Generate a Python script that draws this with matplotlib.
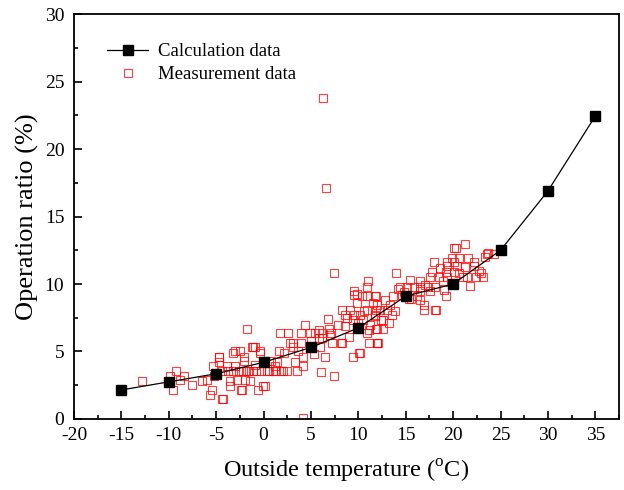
import numpy as np
import matplotlib
matplotlib.use("Agg")
import matplotlib.pyplot as plt
from matplotlib.ticker import MultipleLocator

plt.rcParams['font.family'] = ['Liberation Serif', 'DejaVu Serif']
plt.rcParams['mathtext.fontset'] = 'custom'
plt.rcParams['mathtext.rm'] = 'Liberation Serif'
plt.rcParams['axes.unicode_minus'] = False

# calculation data
calc_t = [-15, -10, -5, 0, 5, 10, 15, 20, 25, 30, 35]
calc_r = [2.15, 2.75, 3.35, 4.2, 5.3, 6.75, 9.1, 10.0, 12.5, 16.9, 22.45]

meas_t = [
    -12.85, -9.6, -9.9, -9.2, -8.35, -8.8,
    -6.5, -5.4, -5.7, -4.4, -5.2, -4.7, -4.7, -5.3, -3.5, -3.5, -2.4, -1.4, -0.04,
    -3.9, -3.0, -3.2, -2.05, -1.8, -1.1, -2.15, -1.1, -0.35, 0.0, 0.35,
    1.75, 2.6, 1.0, 2.45, 3.1, -4.65, -3.0, -2.45, -2.1, -1.2, -0.9, -0.35,
    1.6, 1.4, 4.4, 4.0, 2.8, 3.15, 3.9, 4.2, 3.3, 4.2, 3.5,
    -4.4, -3.8, -3.2, -2.6, -1.9, -1.5, -0.8, -0.3, 0.6, 1.3, 1.8, 2.0,
    -2.8, -1.95, -2.3, -0.6, 0.1, -4.3, 4.2,
    7.4, 11.0, 10.9, 9.5, 9.5, 9.9, 10.9, 11.9, 8.3, 9.15, 8.6, 9.5, 10.2, 10.9,
    11.9, 11.8, 9.4, 10.5, 11.25, 11.1, 11.9, 10.9, 11.1, 12.0, 10.2, 9.4,
    6.85, 6.95, 4.85, 5.45, 6.15, 7.1, 5.8, 6.15, 7.2, 8.15, 6.0, 5.35, 6.5,
    6.05, 7.45, 8.25, 10.1, 10.4, 12.1,
    14.0, 17.95, 18.65, 19.35, 20.05, 19.9, 17.8, 18.5, 17.6, 16.5, 15.85, 16.5,
    17.4, 18.1, 14.4, 15.1, 17.6, 19.2, 11.8, 13.7, 12.85, 13.35, 12.0, 12.3,
    13.0, 13.5, 11.8, 12.65, 13.2, 12.0, 12.65, 12.0, 16.5, 16.9, 16.2, 18.1,
    16.5, 18.2, 16.9, 15.5, 14.8, 15.3, 14.2,
    21.3, 20.35, 23.6, 23.4, 20.6, 21.55, 20.05, 22.2, 19.35, 20.4, 21.3, 22.2,
    19.2, 20.05, 20.6, 22.9, 21.5, 22.4, 23.2, 19.35, 21.75, 19.0, 23.7, 24.3,
    6.25, 6.6,
    7.9, 8.8, 9.9, 10.6, 11.5, 12.4, 13.9, 14.6, 15.6, 17.0, 18.9, 21.0, 22.7,
    5.0, 5.9, 7.0, 8.6, 9.0, 10.0, 3.6, 2.2, 1.2, 0.8, -0.9, -6.0, -7.6,
]
meas_r = [
    2.84, 2.15, 3.2, 3.55, 3.2, 2.9,
    2.8, 2.15, 1.8, 1.5, 3.2, 4.6, 4.2, 3.9, 2.8, 2.45, 2.15, 2.8, 2.45,
    3.9, 3.9, 4.9, 4.3, 6.7, 5.3, 3.55, 3.55, 4.9, 4.3, 3.55,
    6.4, 6.4, 3.55, 3.55, 5.65, 4.6, 5.0, 5.0, 4.6, 5.3, 5.3, 5.0,
    5.0, 4.25, 7.0, 6.35, 5.65, 5.3, 5.65, 4.6, 4.25, 3.9, 3.55,
    3.55, 3.55, 3.55, 3.55, 3.55, 3.55, 3.55, 3.55, 3.55, 3.55, 3.55, 3.55,
    2.9, 2.9, 2.15, 2.15, 2.45, 1.45, 0.1,
    10.85, 10.2, 9.8, 9.5, 9.2, 9.25, 9.1, 9.1, 8.1, 8.1, 7.7, 7.7, 7.7, 8.1,
    8.1, 7.6, 7.3, 7.3, 7.0, 6.6, 6.65, 6.35, 5.6, 5.6, 4.9, 4.6,
    7.4, 6.7, 6.35, 6.35, 6.35, 6.35, 6.0, 6.0, 5.65, 5.65, 5.35, 4.85, 4.6,
    3.5, 3.2, 5.65, 4.9, 9.1, 5.65,
    10.85, 11.6, 11.2, 11.6, 12.65, 11.9, 10.9, 10.55, 10.55, 10.2, 9.8, 9.8,
    9.8, 9.8, 9.8, 9.8, 9.5, 9.1, 9.1, 9.1, 8.8, 8.45, 8.45, 8.1,
    8.1, 7.7, 7.7, 7.35, 7.1, 6.7, 6.7, 5.65, 8.8, 8.45, 9.1, 8.1,
    9.45, 8.1, 8.1, 10.3, 9.4, 8.9, 9.6,
    12.95, 12.65, 12.25, 12.0, 11.95, 11.95, 11.6, 11.6, 11.3, 11.3, 11.25, 11.3,
    10.9, 10.9, 10.85, 10.85, 10.55, 10.55, 10.55, 10.55, 9.85, 9.55, 12.3, 12.2,
    23.8, 17.15,
    7.0, 7.5, 8.6, 8.0, 8.6, 7.3, 8.0, 9.2, 8.9, 9.9, 10.2, 10.5, 11.0,
    5.8, 6.6, 6.2, 6.9, 6.1, 7.1, 5.0, 4.9, 3.9, 4.3, 4.0, 2.9, 2.5,
]

fig = plt.figure(figsize=(6.24, 4.9), dpi=100)
ax = fig.add_axes([0.1186, 0.145, 0.8734, 0.826])

ax.plot(calc_t, calc_r, color='black', linewidth=0.9, marker='s',
        markersize=7.5, markerfacecolor='black', markeredgecolor='black',
        label='Calculation data', zorder=3)
ax.plot(meas_t, meas_r, linestyle='none', marker='s', markersize=6.2,
        markerfacecolor='none', markeredgecolor='red', markeredgewidth=0.8,
        alpha=0.75, label='Measurement data', zorder=2)

ax.set_xlim(-20, 37.5)
ax.set_ylim(0, 30)
ax.xaxis.set_major_locator(MultipleLocator(5))
ax.xaxis.set_minor_locator(MultipleLocator(2.5))
ax.yaxis.set_major_locator(MultipleLocator(5))
ax.yaxis.set_minor_locator(MultipleLocator(2.5))
ax.tick_params(which='both', direction='in', top=False, right=False,
               labelsize=14, width=1.2)
ax.tick_params(axis='x', pad=6)
ax.tick_params(axis='y', pad=7)
ax.tick_params(which='major', length=6)
ax.tick_params(which='minor', length=3)
for s in ax.spines.values():
    s.set_linewidth(1.3)

ax.set_xlabel(r'Outside temperature ($^{\mathrm{o}}$C)', fontsize=17.5, labelpad=10)
ax.set_ylabel('Operation ratio (%)', fontsize=19, labelpad=4)

ax.legend(loc='upper left', frameon=False, fontsize=13.5,
          bbox_to_anchor=(0.03, 0.97), handlelength=2.2, handletextpad=0.5,
          labelspacing=0.3)

fig.savefig('out.png', dpi=100)
